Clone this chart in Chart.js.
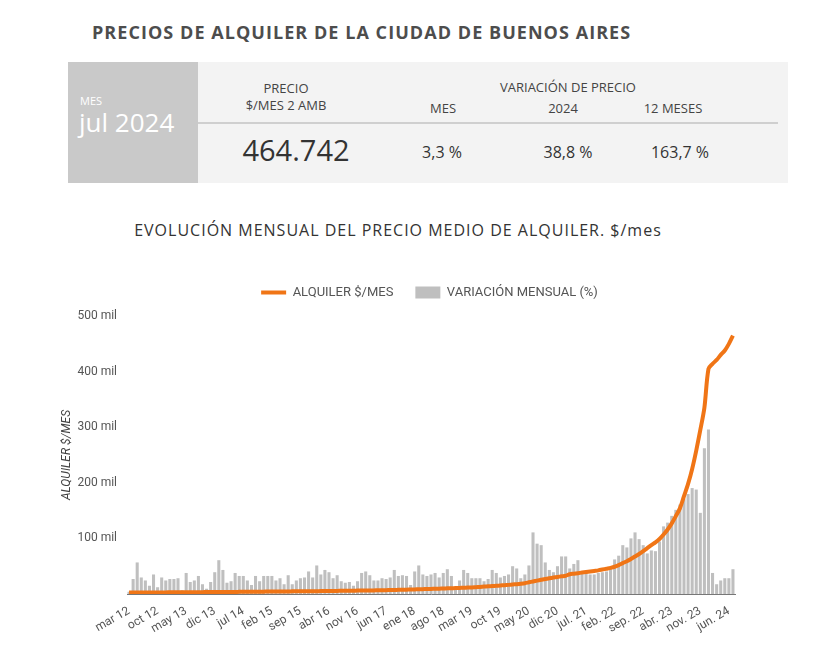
<!DOCTYPE html>
<html>
<head>
<meta charset="utf-8">
<script src="https://cdn.jsdelivr.net/npm/chart.js@4.4.1/dist/chart.umd.min.js"></script>
<style>
  body { margin: 0; background: #fff; width: 822px; height: 662px; position: relative; overflow: hidden; font-family: "Open Sans", sans-serif; }
  .abs { position: absolute; white-space: nowrap; }
  #title { left: 92px; top: 20px; font-size: 18px; font-weight: 700; color: #4d4d4d; letter-spacing: 1.05px; }
  #box { left: 68px; top: 62px; width: 720px; height: 121px; background: #f3f3f3; }
  #mesBox { left: 68px; top: 62px; width: 130px; height: 121px; background: #c9c9c9; }
  #sep { left: 198px; top: 122px; width: 580px; height: 2px; background: #cfcfcf; }
  .hd { font-size: 13px; color: #444; transform: translateX(-50%); }
  .val { font-size: 16px; color: #333; transform: translateX(-50%); }
  #sub { left: 0; width: 796px; top: 219px; text-align: center; font-size: 16px; color: #333; letter-spacing: 1px; }
  #wrap { position: absolute; left: 60px; top: 264px; width: 720px; height: 380px; }
</style>
</head>
<body>
<div id="title" class="abs">PRECIOS DE ALQUILER DE LA CIUDAD DE BUENOS AIRES</div>
<div id="box" class="abs"></div>
<div id="mesBox" class="abs"></div>
<div id="sep" class="abs"></div>
<div class="abs" style="left:80px;top:93px;font-size:11px;color:#fff;">MES</div>
<div class="abs" style="left:79px;top:104px;font-size:26px;color:#fff;">jul 2024</div>
<div class="abs hd" style="left:286px;top:79px;">PRECIO</div>
<div class="abs hd" style="left:286px;top:96px;">$/MES 2 AMB</div>
<div class="abs hd" style="left:568px;top:78px;">VARIACIÓN DE PRECIO</div>
<div class="abs hd" style="left:443px;top:99px;">MES</div>
<div class="abs hd" style="left:563px;top:99px;">2024</div>
<div class="abs hd" style="left:673px;top:99px;">12 MESES</div>
<div class="abs" style="left:296px;top:130px;font-size:29px;color:#333;transform:translateX(-50%);">464.742</div>
<div class="abs val" style="left:442px;top:141px;">3,3 %</div>
<div class="abs val" style="left:568px;top:141px;">38,8 %</div>
<div class="abs val" style="left:680px;top:141px;">163,7 %</div>
<div id="sub" class="abs">EVOLUCIÓN MENSUAL DEL PRECIO MEDIO DE ALQUILER. $/mes</div>
<div id="wrap"><canvas id="chart"></canvas></div>
<script>
// meses desde mar 2012 hasta jul 2024
const firstYear = 2012, firstMonth = 2, nMonths = 149;
const monthNames = ['ene', 'feb', 'mar', 'abr', 'may', 'jun', 'jul', 'ago', 'sep', 'oct', 'nov', 'dic'];
const labels = [];
for (let i = 0; i < nMonths; i++) {
  const m = (firstMonth + i) % 12;
  const y = firstYear + Math.floor((firstMonth + i) / 12);
  const yy = String(y).slice(2);
  labels.push(y >= 2021 ? monthNames[m] + '. ' + yy : monthNames[m] + ' ' + yy);
}

// alquiler $/mes (2 ambientes)
const alquiler = [
  2500, 2540, 2590, 2630, 2680, 2720, 2770, 2810, 2860, 2900, 2950, 3000,
  3050, 3100, 3150, 3200, 3250, 3300, 3350, 3400, 3450, 3500, 3550, 3600,
  3660, 3720, 3780, 3840, 3900, 3960, 4030, 4100, 4170, 4240, 4310, 4380,
  4450, 4520, 4590, 4660, 4730, 4800, 4870, 4940, 5010, 5080, 5140, 5200,
  5300, 5400, 5500, 5600, 5700, 5800, 5900, 6000, 6100, 6200, 6300, 6400,
  6500, 6650, 6800, 6950, 7100, 7250, 7450, 7650, 7850, 8050, 8250, 8450,
  8650, 8900, 9150, 9400, 9650, 9900, 10150, 10400, 10650, 10900, 11200, 11500,
  11800, 12300, 12800, 13300, 13800, 14300, 14800, 15300, 15800, 16400, 17000, 17700,
  18500, 19500, 21000, 22500, 24000, 25500, 27000, 28300, 29500, 30700, 31800, 32800,
  35500, 36500, 37500, 38500, 39500, 40500, 41500, 42500, 44000, 45500, 47000, 49000,
  52000, 55500, 59000, 63000, 67500, 72000, 77000, 82500, 88000, 93000, 99000, 107000,
  116000, 127000, 140000, 154000, 176000, 198000, 225000, 258000, 295000, 335000, 405000, 414000,
  421000, 430000, 438000, 449900, 464742
];

// variación mensual (%)
const variacion = [
  0.3, 2.0, 4.2, 2.2, 1.8, 1.1, 2.6, 0.9, 2.2, 1.8, 2.0, 2.0,
  2.1, 0.5, 2.8, 1.6, 1.8, 2.4, 1.3, 0.7, 1.6, 2.9, 4.5, 3.2,
  1.5, 1.7, 2.8, 2.4, 2.4, 1.8, 1.2, 2.4, 1.7, 2.4, 2.4, 2.4,
  1.8, 2.1, 1.3, 2.5, 1.3, 1.8, 2.1, 2.2, 3.0, 2.2, 3.8, 2.6,
  3.2, 2.9, 2.1, 2.5, 1.7, 1.5, 1.6, 1.1, 1.7, 2.8, 3.0, 2.5,
  1.8, 1.8, 2.1, 2.0, 2.2, 3.2, 2.4, 2.5, 2.4, 1.2, 3.0, 3.8,
  2.6, 2.4, 2.6, 2.8, 2.2, 2.8, 3.3, 2.4, 0.9, 1.8, 3.2, 2.8,
  2.1, 2.1, 2.1, 1.7, 2.0, 3.2, 2.8, 2.2, 2.4, 2.6, 3.7, 3.4,
  2.1, 2.6, 3.8, 8.2, 6.7, 6.5, 4.2, 3.2, 2.9, 3.7, 5.0, 5.0,
  3.4, 4.0, 4.5, 2.8, 2.8, 2.6, 2.6, 2.8, 2.9, 3.0, 3.4, 4.6,
  5.1, 6.5, 6.2, 7.4, 8.2, 7.3, 6.5, 5.4, 5.8, 5.7, 7.0, 9.0,
  9.5, 10.4, 11.2, 11.9, 12.7, 13.3, 14.1, 13.9, 10.8, 19.4, 21.9, 2.8,
  1.3, 1.8, 2.1, 2.1, 3.3
];

const yTicks = [0, 100000, 200000, 300000, 400000, 500000];

const ORANGE = '#f07516';
const GRAY = '#bfbfbf';
const textColor = '#555';

Chart.defaults.font.family = 'Roboto, sans-serif';
Chart.defaults.color = textColor;

// a bit more room under the legend, and legend moved to the right like the original
const legendTweak = {
  id: 'legendTweak',
  beforeInit(chart) {
    const lg = chart.legend;
    const fit = lg.fit;
    lg.fit = function () { fit.call(this); this.height += 7; };
  },
  afterLayout(chart) {
    chart.legend.left += 32;
    chart.legend.right += 32;
  }
};

new Chart(document.getElementById('chart'), {
  data: {
    labels: labels,
    datasets: [
      {
        type: 'line',
        label: 'ALQUILER $/MES',
        data: alquiler,
        borderColor: ORANGE,
        backgroundColor: ORANGE,
        borderWidth: 4,
        pointRadius: 0,
        tension: 0.3,
        yAxisID: 'y',
        order: 0
      },
      {
        type: 'bar',
        label: 'VARIACIÓN MENSUAL (%)',
        data: variacion,
        backgroundColor: GRAY,
        barPercentage: 0.75,
        categoryPercentage: 1,
        yAxisID: 'y2',
        order: 1
      }
    ]
  },
  plugins: [legendTweak],
  options: {
    responsive: true,
    maintainAspectRatio: false,
    animation: false,
    layout: { padding: { top: 0, right: 45, left: 0, bottom: 0 } },
    plugins: {
      tooltip: { enabled: false },
      legend: {
        position: 'top',
        labels: {
          usePointStyle: true,
          pointStyleWidth: 25,
          boxHeight: 12,
          padding: 22,
          font: { size: 13 },
          color: textColor,
          generateLabels: (chart) => chart.data.datasets.map((ds, i) => ({
            text: ds.label,
            fillStyle: ds.type === 'line' ? ORANGE : GRAY,
            strokeStyle: ds.type === 'line' ? ORANGE : GRAY,
            lineWidth: ds.type === 'line' ? 4 : 0,
            pointStyle: ds.type === 'line' ? 'line' : 'rect',
            fontColor: textColor,
            hidden: false,
            datasetIndex: i
          }))
        }
      }
    },
    scales: {
      x: {
        grid: { display: false },
        border: { color: '#777', width: 1 },
        ticks: {
          autoSkip: false,
          maxRotation: 30,
          minRotation: 30,
          font: { size: 12 },
          color: textColor,
          padding: 2,
          callback: function (v, i) { return i % 7 === 0 ? this.getLabelForValue(v) : ''; }
        },
        afterFit: (s) => { s.height = 50; }
      },
      y: {
        min: 0,
        max: 500000,
        afterBuildTicks: (s) => { s.ticks = yTicks.map(v => ({ value: v })); },
        grid: { display: false },
        border: { display: false },
        ticks: {
          font: { size: 12 },
          color: textColor,
          padding: 2,
          callback: (v) => v === 0 ? '' : (v / 1000) + ' mil'
        },
        title: {
          display: true,
          text: 'ALQUILER $/MES',
          font: { size: 12, style: 'italic' },
          color: '#444',
          padding: { top: 0, bottom: 2 }
        },
        afterFit: (s) => { s.width = 67; }
      },
      y2: {
        display: false,
        min: 0,
        max: 37
      }
    }
  }
});
</script>
</body>
</html>
